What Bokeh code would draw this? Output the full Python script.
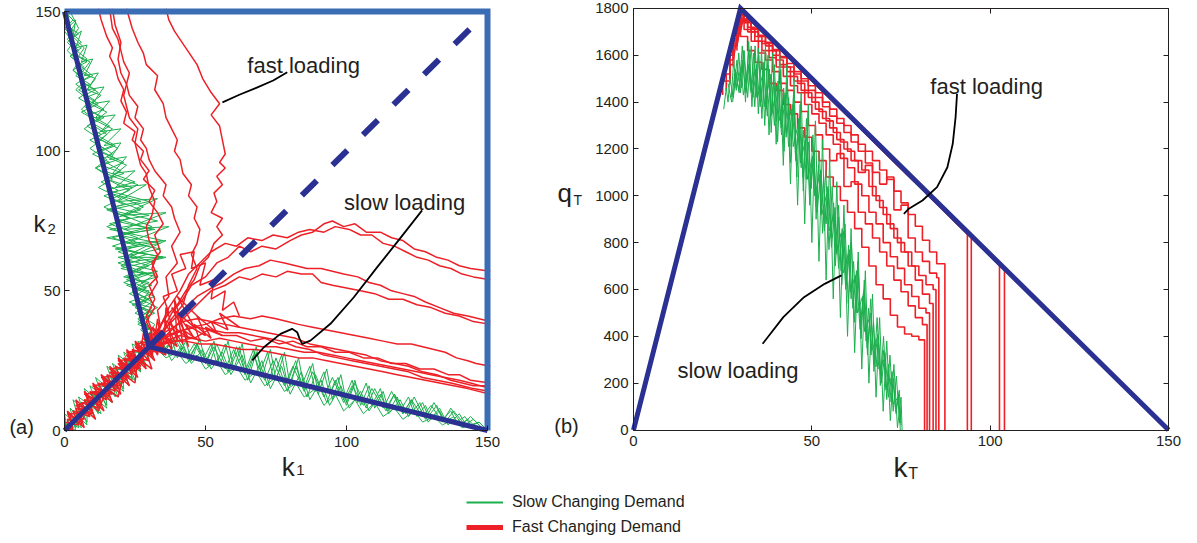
from bokeh.plotting import figure
from bokeh.models import Range1d, LinearAxis, FixedTicker, Label, Legend, LegendItem
from bokeh.layouts import column, row
from bokeh.embed import file_html
from bokeh.resources import INLINE

FONT = "Liberation Sans"
INK = "#231F20"
NAVY = "#2B3192"
LIGHT_BLUE = "#3B6DB5"
RED = "#EE2027"
GREEN = "#1DAF4E"

# ======================= panel (a): k1 / k2 plane =======================
left_ticks = [0, 50, 100, 150]
boundary_k1 = [0, 150, 150]
boundary_k2 = [150, 150, 0]
arms_k1 = [0, 30, 150]
arms_k2 = [150, 30, 0]
diag_k1 = [0, 30]
diag_k2 = [0, 30]
dash_k1 = [30, 145]
dash_k2 = [30, 145]

green_left = [
    [(1,149),(4,146),(2,143),(6,139),(3,137),(8,133),(5,131),(10,127),(6,125),(12,121),(7,119),(14,115),(9,113),(16,109),(11,106),(18,102),(13,100),(21,96),(14,93),(25,89),(15,86),(30,82),(16,79),(33,75),(16,72),(35,68),(18,65),(36,62),(20,58),(33,55),(22,52),(32,48),(24,45),(31,42),(26,38),(31,36),(29,32)],
    [(0,147),(3,143),(1,140),(5,136),(2,134),(7,130),(4,127),(9,124),(5,122),(11,118),(7,116),(13,112),(9,110),(15,106),(11,103),(17,99),(13,97),(20,93),(15,90),(23,86),(17,83),(27,79),(18,76),(31,72),(15,69),(34,65),(19,62),(30,59),(21,55),(30,53),(24,50),(31,46),(25,42),(30,40),(27,36),(31,33)],
    [(2,150),(5,144),(3,141),(7,137),(5,134),(9,132),(6,128),(11,126),(8,122),(13,120),(9,117),(15,114),(11,111),(17,108),(13,104),(19,101),(15,98),(22,95),(17,91),(26,88),(19,84),(28,80),(21,77),(31,73),(19,70),(29,66),(23,63),(32,60),(24,57),(29,51),(25,48),(33,44),(27,41),(32,38),(30,34)],
    [(0,150),(3,147),(1,145),(5,142),(2,140),(6,137),(3,135),(8,132),(4,130),(9,127),(6,125),(11,122),(7,120),(12,117),(8,115),(14,112),(10,110),(15,107),(11,105),(17,102),(12,100),(19,97),(13,95),(21,92),(15,90),(24,87),(16,85),(27,82),(17,80),(30,77),(18,75),(32,72),(19,70),(34,67),(20,65),(35,62),(21,60),(33,57),(22,55),(31,52),(24,50),(30,47),(25,45),(32,42),(27,40),(30,37),(28,34)],
    [(1,146),(0,143),(3,139),(1,136),(5,132),(3,129),(7,125),(4,122),(9,118),(6,115),(11,111),(7,108),(13,104),(9,101),(15,97),(11,94),(17,90),(12,87),(20,83),(14,80),(23,76),(15,73),(26,69),(17,66),(29,63),(19,60),(30,56),(21,53),(31,49),(23,46),(30,43),(26,40),(31,36),(28,33)],
    [(1,150),(2,145),(4,147),(3,141),(6,143),(4,137),(8,138),(6,132),(10,133),(7,127),(12,128),(8,122),(14,123),(10,117),(16,118),(11,112),(18,113),(13,107),(20,108),(14,102),(20,103),(16,97),(22,98),(17,92),(25,93),(18,87),(29,88),(19,82),(33,83),(20,77),(36,78),(21,72),(37,73),(22,67),(36,68),(23,62),(34,62),(24,57),(32,56),(25,51),(30,50),(27,45),(31,44),(28,39),(30,36)],
    [(0,148),(2,146),(0,144),(3,141),(1,139),(4,136),(2,134),(6,131),(3,129),(7,126),(4,124),(8,121),(5,119),(10,116),(6,114),(11,111),(8,109),(13,106),(9,104),(14,101),(10,99),(16,96),(11,94),(17,91),(13,89),(19,86),(14,84),(21,81),(15,79),(23,76),(16,74),(24,71),(17,69),(26,66),(19,64),(27,61),(20,59),(28,56),(22,54),(29,51),(23,49),(29,46),(25,44),(30,41),(26,39),(30,36)],
    [(30,31),(34,33),(37,27),(40,33),(44,25),(47,31),(51,23),(54,31),(58,21),(61,30),(65,18),(68,28),(72,16),(75,26),(79,14),(82,23),(86,12),(89,20),(93,10),(96,18),(100,9),(103,17),(107,8),(110,15),(114,7),(117,13),(121,6),(124,12),(128,4),(131,10),(135,3),(138,7),(142,2),(145,4),(149,0)],
    [(31,29),(35,31),(38,25),(42,30),(45,24),(49,29),(52,22),(56,28),(59,20),(63,27),(66,17),(70,25),(73,15),(77,23),(80,13),(84,21),(87,11),(91,18),(94,9),(98,16),(101,8),(105,14),(108,7),(112,13),(115,6),(119,11),(122,5),(126,10),(129,3),(133,8),(136,2),(140,6),(143,1),(147,3),(150,0)],
    [(32,32),(36,29),(39,33),(43,26),(46,31),(50,24),(53,30),(57,22),(60,29),(64,20),(67,27),(71,18),(74,25),(78,16),(81,23),(85,14),(88,21),(92,12),(95,19),(99,10),(102,16),(106,9),(109,15),(113,8),(116,14),(120,6),(123,11),(127,5),(130,9),(134,3),(137,8),(141,2),(144,5),(148,1)],
    [(30,30),(32,32),(34,28),(37,31),(39,27),(42,31),(44,26),(47,31),(49,25),(52,31),(54,24),(57,31),(59,23),(62,30),(64,21),(67,29),(69,20),(72,28),(74,19),(77,27),(79,17),(82,25),(84,16),(87,23),(89,14),(92,21),(94,13),(97,19),(99,11),(102,18),(104,10),(107,17),(109,9),(112,15),(114,8),(117,13),(119,7),(122,12),(124,6),(127,10),(129,5),(132,9),(134,4),(137,7),(139,3),(142,5),(144,2),(147,3),(150,0)],
    [(33,29),(36,26),(40,28),(43,24),(47,27),(50,22),(54,25),(57,20),(61,23),(64,18),(68,21),(71,16),(75,19),(78,14),(82,17),(85,12),(89,15),(92,9),(96,13),(99,7),(103,11),(106,6),(110,10),(113,5),(117,8),(120,4),(124,7),(127,3),(131,5),(134,2),(138,4),(141,1),(145,2),(149,0)],
    [(30,29),(33,33),(35,27),(38,33),(40,26),(43,32),(45,25),(48,33),(50,24),(53,32),(55,23),(58,32),(60,22),(63,31),(65,20),(68,30),(70,19),(73,29),(75,18),(78,28),(80,16),(83,26),(85,15),(88,24),(90,13),(93,22),(95,11),(98,20),(100,10),(103,18),(105,9),(108,16),(110,8),(113,14),(115,7),(118,12),(120,6),(123,11),(125,5),(128,9),(130,4),(133,7),(135,3),(138,5),(140,2),(143,4),(146,1),(149,1)],
    [(1,0),(0,6),(6,1),(3,11),(11,4),(7,15),(15,8),(11,19),(19,12),(15,23),(23,16),(19,27),(27,21),(24,31),(31,27),(28,33)],
    [(0,2),(4,0),(2,8),(8,2),(5,12),(13,6),(9,16),(17,10),(13,20),(21,14),(17,24),(25,18),(21,28),(29,23),(26,32),(32,29)],
    [(2,3),(5,1),(4,7),(9,5),(7,11),(12,8),(10,14),(16,12),(14,18),(20,15),(18,21),(24,19),(22,25),(28,24),(27,29),(31,30)],
    [(0,0),(2,5),(4,1),(5,9),(8,3),(8,12),(12,6),(11,15),(15,9),(14,18),(18,12),(17,21),(21,15),(20,24),(24,18),(23,27),(27,21),(26,30),(30,25),(29,32)],
    [(1,2),(5,3),(3,7),(9,6),(6,10),(13,9),(9,13),(16,12),(12,16),(19,15),(15,19),(22,18),(18,22),(25,21),(21,25),(28,24),(24,28),(31,28)],
]

red_diag = [
    [(0,0),(3,1),(2,5),(7,4),(5,9),(10,7),(8,12),(13,10),(11,15),(16,13),(14,18),(19,16),(17,21),(22,19),(20,24),(25,22),(23,27),(28,25),(26,30),(31,28),(29,33),(34,31)],
    [(1,0),(0,3),(5,2),(3,7),(9,5),(6,10),(12,8),(9,14),(15,11),(12,17),(18,14),(15,20),(21,17),(18,23),(24,20),(21,26),(27,23),(24,29),(30,27),(27,32),(33,30),(30,35)],
    [(2,1),(4,4),(1,6),(8,6),(4,9),(11,11),(7,13),(14,14),(10,16),(17,17),(13,19),(20,20),(16,22),(23,23),(19,25),(26,26),(22,28),(29,29),(25,31),(32,32),(28,34),(35,35)],
    [(5,3),(9,10),(12,7),(15,15),(19,12),(21,20),(25,17),(26,26),(31,22),(28,31),(36,27),(32,36),(40,30),(35,40),(44,33),(38,44),(46,37),(40,48),(48,40)],
    [(0,1),(2,0),(3,4),(6,2),(6,8),(9,6),(9,11),(13,9),(12,15),(16,12),(15,18),(19,15),(18,21),(22,18),(21,24),(25,21),(24,27),(28,24),(27,30),(31,27),(30,33),(34,29),(33,36),(38,32)],
    [(20,22),(24,28),(27,24),(30,33),(33,27),(34,36),(38,29),(37,39),(42,31),(40,42),(46,33),(43,38),(50,34),(47,41),(54,35),(52,39),(58,36),(55,42),(62,37),(58,40)],
    [(22,27),(26,22),(28,35),(31,26),(33,40),(35,28),(36,44),(40,32),(39,47),(44,30),(42,36),(48,32),(46,38),(52,33),(50,37),(56,34)],
    [(33,36),(37,42),(35,48),(40,50),(38,56),(43,58),(41,63),(46,64),(45,58),(50,60),(48,52),(53,54),(52,47),(57,50),(56,43),(60,46),(62,41)],
    [(0,2),(3,0),(1,7),(7,1),(4,11),(11,4),(7,14),(14,7),(10,17),(17,10),(13,20),(20,13),(16,23),(23,16),(19,26),(26,19),(22,29),(29,22),(25,32),(32,25),(28,35),(35,28),(31,37),(38,31)],
    [(2,0),(1,4),(6,3),(4,8),(10,6),(7,11),(13,10),(10,14),(17,13),(13,17),(20,16),(16,21),(23,19),(19,24),(27,22),(22,27),(30,25),(25,30),(33,28),(28,33),(36,31),(32,36)],
]

red_up = [
    [(30,30),(31,36),(29,41),(32,47),(30,52),(33,55),(31,60),(34,64),(32,70),(35,74),(33,78),(30,82),(32,86),(28,90),(30,93),(27,97),(28,100),(24,104),(25,107),(21,110),(22,114),(20,118),(21,122),(19,126),(18,130),(16,134),(17,137),(15,141),(14,144),(13,147),(12,151)],
    [(31,32),(34,37),(33,43),(37,48),(36,55),(40,60),(38,66),(41,71),(39,76),(38,80),(35,84),(36,88),(32,93),(30,97),(29,101),(27,104),(28,108),(25,112),(26,116),(23,120),(22,124),(23,128),(21,132),(20,136),(19,140),(17,144),(16,151)],
    [(31,31),(35,35),(38,40),(42,45),(44,52),(47,58),(45,63),(47,67),(48,72),(46,76),(47,80),(44,84),(45,88),(42,92),(41,97),(39,100),(40,104),(38,108),(36,112),(35,117),(32,122),(33,127),(29,131),(28,135),(26,139),(24,144),(22,151)],
    [(30,33),(33,36),(36,41),(40,45),(43,50),(46,54),(48,59),(51,62),(53,67),(56,70),(54,73),(56,76),(52,78),(54,82),(53,85),(56,88),(54,91),(57,94),(55,96),(57,99),(56,104),(55,109),(52,113),(55,117),(52,121),(49,126),(47,131),(43,137),(39,143),(37,147),(36,151)],
    [(29,31),(31,35),(29,39),(32,44),(30,48),(33,53),(31,58),(33,63),(30,68),(29,73),(31,77),(32,82),(30,87),(29,92),(27,95),(26,99),(25,103),(26,108),(23,112),(22,116),(21,120),(22,124),(20,128),(19,133),(20,139),(18,145),(17,151)],
]

red_right = [
    [(31,31),(35,36),(38,42),(42,47),(45,52),(50,55),(54,60),(58,62),(62,66),(66,64),(70,66),(75,65),(80,68),(84,70),(88,71),(92,74),(95,75),(99,73),(103,74),(107,71),(112,71),(116,69),(120,68),(124,65),(128,64),(132,62),(136,61),(140,59),(144,58),(151,57)],
    [(30,32),(34,37),(37,44),(41,50),(44,56),(48,60),(52,64),(57,67),(61,66),(65,69),(70,68),(74,70),(79,69),(83,71),(87,72),(92,71),(96,73),(101,72),(105,70),(109,70),(113,67),(117,66),(121,64),(125,62),(129,61),(133,59),(137,58),(141,56),(145,55),(151,54)],
    [(31,30),(36,34),(40,38),(44,42),(48,46),(52,50),(57,52),(62,55),(66,54),(70,56),(75,55),(79,57),(84,56),(88,56),(91,53),(95,52),(100,51),(105,50),(110,49),(115,47),(120,47),(125,45),(130,44),(135,42),(140,41),(145,39),(151,38)],
    [(32,32),(37,38),(42,43),(47,48),(52,51),(56,53),(60,56),(64,58),(69,59),(73,61),(78,60),(82,59),(86,58),(91,58),(95,57),(99,56),(104,55),(108,53),(112,52),(116,50),(120,49),(124,48),(128,46),(133,44),(138,42),(143,41),(151,39)],
    [(30,30),(35,33),(40,35),(45,37),(50,38),(55,40),(60,41),(66,40),(70,41),(75,40),(79,39),(83,38),(88,37),(93,36),(98,35),(103,34),(108,33),(113,32),(118,31),(123,31),(127,30),(131,29),(135,28),(139,26),(143,25),(146,24),(151,23)],
    [(31,30),(36,32),(41,34),(46,33),(51,36),(56,34),(61,34),(66,32),(71,33),(76,31),(81,32),(86,30),(91,30),(96,28),(101,28),(106,26),(111,26),(116,24),(121,24),(126,22),(131,22),(136,20),(140,20),(144,18),(151,17)],
    [(30,29),(35,31),(40,32),(45,33),(50,32),(55,33),(60,32),(65,31),(70,30),(75,30),(80,29),(85,28),(90,28),(95,27),(100,26),(105,25),(110,24),(115,23),(120,22),(125,21),(130,20),(135,19),(140,18),(144,17),(151,15)],
    [(31,31),(36,34),(42,36),(47,37),(52,36),(57,35),(62,35),(67,34),(72,33),(77,32),(82,30),(87,29),(92,27),(97,26),(102,25),(107,24),(112,23),(117,22),(122,21),(127,19),(132,18),(137,17),(141,16),(145,15),(151,14)],
    [(30,30),(34,31),(38,32),(43,32),(48,31),(53,31),(58,30),(63,29),(68,29),(73,28),(78,27),(83,26),(88,26),(93,25),(98,24),(103,23),(108,22),(113,21),(118,20),(123,19),(128,18),(133,17),(138,16),(143,15),(151,13)],
    [(32,33),(37,36),(42,39),(47,40),(52,39),(57,38),(62,37),(67,36),(72,35),(77,34),(82,33),(87,31),(92,30),(97,29),(102,28),(107,27),(112,25),(117,24),(122,23),(127,21),(132,20),(137,18),(141,17),(145,16),(151,16)],
]

ptr_fast_a_k1 = [56, 62, 68, 74, 79]
ptr_fast_a_k2 = [117.5, 120.2, 122.7, 125.3, 128.3]
ptr_slow_a_k1 = [126.8, 118.8, 110.9, 102.6, 94.3, 87.2, 84.3, 83.4, 82.5, 80.7, 76.6, 70.7, 66.6]
ptr_slow_a_k2 = [78.8, 68.5, 58.5, 47.7, 38.2, 32.2, 31.0, 32.8, 35.2, 36.4, 34.6, 29.8, 25.1]

# ======================= panel (b): kT / qT =======================
right_x_ticks = [0, 50, 100, 150]
right_y_ticks = [0, 200, 400, 600, 800, 1000, 1200, 1400, 1600, 1800]
tri_kT = [0, 30, 150]
tri_qT = [0, 1800, 0]

red_b_inner = [
    [(26,1450),(27,1520),(28,1600),(29,1660),(30,1720),(32,1680),(34,1620),(36,1570),(38,1540),(40,1480),(42,1450),(44,1390),(46,1350),(48,1290),(50,1250),(52,1190),(54,1150),(56,1080),(58,1040),(60,980),(62,930),(64,860),(66,780),(68,700),(70,620),(72,560),(74,490),(76,440),(78,410),(80,400),(81.6,385),(81.6,0)],
    [(27,1500),(28,1580),(29,1650),(30,1720),(31,1770),(33,1710),(35,1660),(37,1610),(39,1580),(41,1530),(43,1480),(45,1450),(47,1400),(49,1360),(51,1300),(53,1260),(55,1200),(57,1150),(59,1180),(61,1040),(63,1060),(65,930),(67,880),(69,820),(71,760),(73,700),(75,640),(77,590),(79,530),(81,480),(82.3,450),(82.3,0)],
    [(25,1430),(27,1490),(28,1600),(29,1660),(30,1720),(32,1740),(34,1700),(36,1660),(38,1620),(40,1590),(42,1550),(44,1510),(46,1470),(48,1440),(50,1390),(52,1350),(54,1310),(56,1260),(58,1220),(60,1160),(62,1120),(64,1050),(66,1000),(68,930),(70,880),(72,800),(74,740),(76,690),(78,620),(80,570),(82,520),(83,500),(83,0)],
    [(28,1550),(29,1650),(30,1730),(31,1770),(33,1740),(35,1700),(37,1660),(39,1640),(41,1600),(43,1560),(45,1530),(47,1490),(49,1450),(51,1420),(53,1370),(55,1330),(57,1290),(59,1240),(61,1200),(63,1150),(65,1100),(67,1130),(69,1000),(71,950),(73,880),(75,820),(77,760),(79,700),(81,640),(83,580),(84,540),(84,0)],
    [(27,1480),(28,1560),(29,1640),(30,1720),(32,1750),(34,1720),(36,1680),(38,1650),(40,1620),(42,1580),(44,1550),(46,1510),(48,1480),(50,1440),(52,1400),(54,1360),(56,1320),(58,1270),(60,1230),(62,1190),(64,1150),(66,1110),(68,1040),(70,980),(72,920),(74,860),(76,800),(78,760),(80,700),(82,660),(84,620),(84.8,600),(84.8,0)],
    [(29,1620),(30,1720),(31,1770),(33,1740),(35,1710),(37,1680),(39,1650),(41,1620),(43,1590),(45,1550),(47,1520),(49,1490),(51,1450),(53,1420),(55,1380),(57,1340),(59,1310),(61,1270),(63,1230),(65,1190),(67,1140),(69,1100),(71,1050),(73,1080),(75,940),(77,960),(79,820),(81,760),(83,720),(85,670),(85.6,650),(85.6,0)],
    [(28,1560),(29,1670),(30,1730),(31,1775),(33,1745),(35,1715),(37,1685),(39,1655),(41,1625),(43,1595),(45,1565),(47,1530),(49,1500),(51,1470),(53,1440),(55,1400),(57,1370),(59,1330),(61,1300),(63,1260),(65,1220),(67,1190),(69,1150),(71,1110),(73,1070),(75,1020),(77,970),(79,920),(81,870),(83,810),(85,760),(87.3,710),(87.3,0)],
]

red_b_edge = [
    [(29,1650),(30,1740),(32,1760),(35,1717),(38,1672),(41,1627),(44,1582),(47,1537),(50,1492),(53,1447),(56,1402),(59,1357),(62,1312),(65,1267),(68,1222),(71,1177),(74,1132),(77,1087),(80,1042),(83,997),(86,952),(89,907),(92,862),(93.6,838),(93.6,0)],
    [(28,1580),(29,1680),(30,1760),(33,1747),(36,1702),(39,1657),(42,1612),(45,1567),(48,1522),(51,1477),(54,1432),(57,1387),(60,1342),(63,1297),(66,1252),(69,1207),(72,1162),(75,1117),(78,1072),(81,1027),(84,982),(87,937),(90,892),(93,847),(94.7,822),(94.7,0)],
    [(30,1700),(31,1777),(34,1732),(37,1687),(40,1642),(43,1597),(46,1552),(49,1507),(52,1462),(55,1417),(58,1372),(61,1327),(64,1282),(67,1237),(70,1192),(73,1147),(76,1102),(79,1057),(82,1012),(85,967),(88,922),(91,877),(94,832),(97,787),(100,742),(102.6,703),(102.6,0)],
    [(29,1640),(30,1720),(31,1777),(33,1747),(36,1702),(39,1657),(42,1612),(45,1567),(48,1522),(51,1477),(54,1432),(57,1387),(60,1342),(63,1297),(66,1252),(69,1207),(72,1162),(75,1117),(78,1072),(81,1027),(84,982),(87,937),(90,892),(93,847),(96,802),(99,757),(102,712),(104,682),(104,0)],
]

green_b = [
    [(25.3,1370),(26,1460),(26.5,1400),(27,1500),(28,1420),(29,1580),(30,1440),(31,1620),(32,1420),(33,1640),(34,1380),(35,1630),(36,1330),(37,1640),(38,1260),(39,1610),(40,1220),(41,1600),(42,1130),(43,1560),(44,1050),(45,1500),(46,960),(47,1440),(48,880),(49,1390),(50,800),(51,1320),(52,720),(53,1240),(54,640),(55,1160),(56,560),(57,1060),(58,480),(59,960),(60,400),(61,860),(62,330),(63,760),(64,260),(65,680),(66,200),(67,580),(68,140),(69,480),(70,80),(71,380),(72,40),(73,280),(74,10),(75,140),(75.3,0)],
    [(26.5,1480),(27.5,1400),(28.5,1540),(29.5,1450),(30.5,1580),(31.5,1440),(32.5,1580),(33.5,1420),(34.5,1560),(35.5,1380),(36.5,1550),(37.5,1340),(38.5,1520),(39.5,1300),(40.5,1490),(41.5,1260),(42.5,1440),(43.5,1210),(44.5,1390),(45.5,1150),(46.5,1330),(47.5,1080),(48.5,1260),(49.5,1000),(50.5,1190),(51.5,930),(52.5,1110),(53.5,850),(54.5,1040),(55.5,780),(56.5,950),(57.5,690),(58.5,860),(59.5,600),(60.5,770),(61.5,520),(62.5,680),(63.5,430),(64.5,590),(65.5,350),(66.5,500),(67.5,280),(68.5,410),(69.5,200),(70.5,330),(71.5,140),(72.5,250),(73.5,80),(74.5,170),(75,20)],
    [(28.2,1520),(28.8,1460),(30.2,1550),(30.8,1430),(32.2,1560),(32.8,1450),(34.2,1540),(34.8,1420),(36.2,1520),(36.8,1380),(38.2,1500),(38.8,1350),(40.2,1470),(40.8,1320),(42.2,1430),(42.8,1270),(44.2,1370),(44.8,1210),(46.2,1310),(46.8,1140),(48.2,1240),(48.8,1070),(50.2,1170),(50.8,1000),(52.2,1090),(52.8,920),(54.2,1010),(54.8,850),(56.2,920),(56.8,760),(58.2,840),(58.8,670),(60.2,750),(60.8,590),(62.2,660),(62.8,500),(64.2,570),(64.8,420),(66.2,480),(66.8,340),(68.2,390),(68.8,260),(70.2,300),(70.8,180),(72.2,220),(72.8,110),(74.2,140),(74.8,30)],
    [(27.4,1420),(28.1,1580),(28.8,1450),(29.5,1610),(30.2,1460),(30.9,1620),(31.6,1450),(32.3,1620),(33,1440),(33.7,1610),(34.4,1420),(35.1,1600),(35.8,1400),(36.5,1570),(37.2,1370),(37.9,1540),(38.6,1340),(39.3,1520),(40,1320),(40.7,1490),(41.4,1290),(42.1,1460),(42.8,1250),(43.5,1420),(44.2,1210),(44.9,1390),(45.6,1170),(46.3,1330),(47,1120),(47.7,1280),(48.4,1070),(49.1,1230),(49.8,1030),(50.5,1180),(51.2,980),(51.9,1130),(52.6,920),(53.3,1080),(54,880),(54.7,1030),(55.4,820),(56.1,970),(56.8,750),(57.5,910),(58.2,680),(58.9,850),(59.6,620),(60.3,790),(61,560),(61.7,720),(62.4,500),(63.1,650),(63.8,440),(64.5,590),(65.2,380),(65.9,520),(66.6,320),(67.3,460),(68,270),(68.7,400),(69.4,220),(70.1,340),(70.8,170),(71.5,280),(72.2,120),(72.9,220),(73.6,70),(74.3,150),(74.8,0)],
    [(27.8,1400),(28.7,1530),(29.6,1440),(30.5,1640),(31.4,1400),(32.3,1660),(33.2,1380),(34.1,1640),(35,1350),(35.9,1620),(36.8,1300),(37.7,1600),(38.6,1270),(39.5,1560),(40.4,1230),(41.3,1540),(42.2,1190),(43.1,1500),(44,1140),(44.9,1440),(45.8,1080),(46.7,1390),(47.6,1020),(48.5,1330),(49.4,960),(50.3,1260),(51.2,900),(52.1,1190),(53,840),(53.9,1110),(54.8,770),(55.7,1040),(56.6,700),(57.5,960),(58.4,620),(59.3,880),(60.2,540),(61.1,800),(62,460),(62.9,720),(63.8,390),(64.7,640),(65.6,320),(66.5,560),(67.4,250),(68.3,480),(69.2,190),(70.1,400),(71,130),(71.9,320),(72.8,80),(73.7,230),(74.6,30),(75,100)],
]

ptr_fast_b_kT = [90.7, 90.3, 89.5, 88.0, 85.1, 81.0, 77.2, 75.8]
ptr_fast_b_qT = [1435, 1336, 1222, 1122, 1037, 980, 945, 923]
ptr_slow_b_kT = [36.2, 42.0, 47.8, 53.6, 58.3]
ptr_slow_b_qT = [368, 482, 567, 624, 660]

legend_labels = ["Slow Changing Demand", "Fast Changing Demand"]

PANEL_H = 490


def split(trajs):
    return [[p[0] for p in t] for t in trajs], [[p[1] for p in t] for t in trajs]


def style_axis(ax, ticks, standoff, where, bounds):
    ax.ticker = FixedTicker(ticks=ticks)
    ax.fixed_location = where
    ax.bounds = bounds
    ax.major_tick_in = 5
    ax.major_tick_out = 0
    ax.minor_tick_line_color = None
    ax.axis_line_color = INK
    ax.major_tick_line_color = INK
    ax.major_label_text_font = FONT
    ax.major_label_text_font_size = "15px"
    ax.major_label_text_color = INK
    ax.major_label_standoff = standoff


def add_text(p, x, y, text, size, align="left"):
    p.add_layout(Label(x=x, y=y, text=text, text_font=FONT, text_font_size=size,
                       text_color=INK, text_align=align, text_baseline="alphabetic"))


# ---------------- figure (a) ----------------
# the frame fills the whole canvas; axes are pinned at k = 0
p1 = figure(width=545, height=PANEL_H,
            x_range=Range1d(-64 / 2.82, (545 - 64) / 2.82),
            y_range=Range1d(-(PANEL_H - 430) / 2.793, 430 / 2.793),
            output_backend="svg", toolbar_location=None, min_border=0)
p1.grid.visible = False
p1.outline_line_color = None
style_axis(p1.xaxis[0], left_ticks, 6, 0, (0, 150))
style_axis(p1.yaxis[0], left_ticks, 4, 0, (0, 150))

xs, ys = split(green_left)
p1.multi_line(xs, ys, line_color=GREEN, line_width=1)
for group in (red_diag, red_up, red_right):
    xs, ys = split(group)
    p1.multi_line(xs, ys, line_color=RED, line_width=1.5)

p1.line(boundary_k1, boundary_k2, line_color=LIGHT_BLUE, line_width=6, line_join="miter")
p1.line(arms_k1, arms_k2, line_color=NAVY, line_width=5, line_join="miter")
p1.line(diag_k1, diag_k2, line_color=NAVY, line_width=5)
p1.line(dash_k1, dash_k2, line_color=NAVY, line_width=6, line_dash="21 22")

p1.line(ptr_fast_a_k1, ptr_fast_a_k2, line_color="black", line_width=1.8, line_join="round")
p1.line(ptr_slow_a_k1, ptr_slow_a_k2, line_color="black", line_width=1.8, line_join="round")

add_text(p1, 84.8, 130.7, "fast loading", "22px", "center")
add_text(p1, 120.6, 81.7, "slow loading", "22px", "center")
add_text(p1, -15.2, 1.4, "(a)", "20px", "center")
add_text(p1, -11, 74.1, "k", "24px")
add_text(p1, -6, 72, "2", "15px")
add_text(p1, 77, -13.2, "k", "26px")
add_text(p1, 82.2, -14.3, "1", "15px")

# ---------------- figure (b) ----------------
p2 = figure(width=652, height=PANEL_H,
            x_range=Range1d(-88 / 3.567, (652 - 88) / 3.567),
            y_range=Range1d(-(PANEL_H - 429.5) / 0.2342, 429.5 / 0.2342),
            output_backend="svg", toolbar_location=None, min_border=0)
p2.grid.visible = False
p2.outline_line_color = None
style_axis(p2.xaxis[0], right_x_ticks, 6, 0, (0, 150))
style_axis(p2.yaxis[0], right_y_ticks, 5, 0, (0, 1800))
for loc, ticks, where, bounds in (("above", right_x_ticks, 1800, (0, 150)),
                                  ("right", right_y_ticks, 150, (0, 1800))):
    ax = LinearAxis()
    style_axis(ax, ticks, 0, where, bounds)
    ax.major_label_text_font_size = "0px"
    ax.major_label_text_color = None
    p2.add_layout(ax, loc)

for t in red_b_inner:
    p2.step([p[0] for p in t], [p[1] for p in t], mode="before", line_color=RED, line_width=1.6)
xs, ys = split(red_b_edge)
p2.multi_line(xs, ys, line_color=RED, line_width=1.6)
xs, ys = split(green_b)
p2.multi_line(xs, ys, line_color=GREEN, line_width=1)
p2.line(tri_kT, tri_qT, line_color=NAVY, line_width=5, line_join="miter")

p2.line(ptr_fast_b_kT, ptr_fast_b_qT, line_color="black", line_width=1.8, line_join="round")
p2.line(ptr_slow_b_kT, ptr_slow_b_qT, line_color="black", line_width=1.8, line_join="round")

add_text(p2, 99, 1467, "fast loading", "22px", "center")
add_text(p2, 29.3, 254, "slow loading", "22px", "center")
add_text(p2, -18.8, 15, "(b)", "20px", "center")
add_text(p2, -21.3, 1010, "q", "26px")
add_text(p2, -16.8, 980, "T", "14px")
add_text(p2, 72.9, -160, "k", "28px")
add_text(p2, 77.0, -186, "T", "16px")

# ---------------- legend strip ----------------
p3 = figure(width=1197, height=543 - PANEL_H, x_range=Range1d(0, 1), y_range=Range1d(0, 1),
            output_backend="svg", toolbar_location=None, min_border=0,
            x_axis_location=None, y_axis_location=None)
p3.grid.visible = False
p3.outline_line_color = None
r_slow = p3.line([-2, -1], [-2, -2], line_color=GREEN, line_width=1.8)
r_fast = p3.line([-2, -1], [-3, -3], line_color=RED, line_width=5)
legend = Legend(items=[LegendItem(label=legend_labels[0], renderers=[r_slow]),
                       LegendItem(label=legend_labels[1], renderers=[r_fast])],
                location=(466, 7), orientation="vertical",
                glyph_width=37, glyph_height=18, label_height=18, spacing=7,
                padding=0, margin=0, label_standoff=9,
                label_text_font=FONT, label_text_font_size="16px", label_text_color=INK,
                border_line_color=None, background_fill_alpha=0)
p3.add_layout(legend)

layout = column(row(p1, p2), p3)
open("out.html", "w").write(file_html(layout, INLINE))
